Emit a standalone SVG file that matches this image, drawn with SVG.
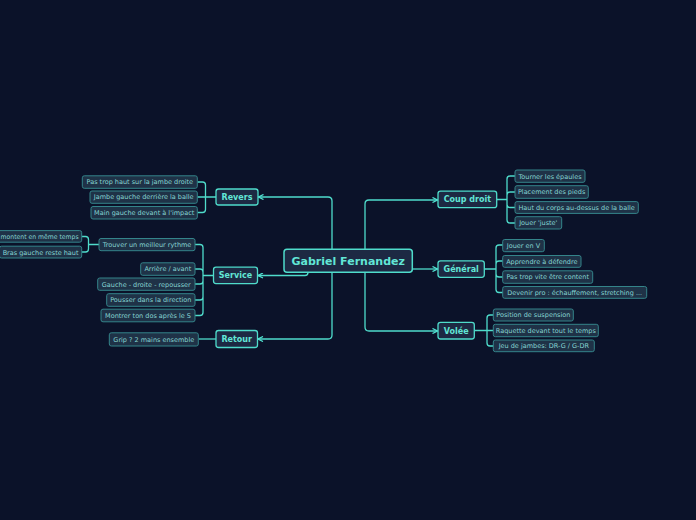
<svg xmlns="http://www.w3.org/2000/svg" width="696" height="520" viewBox="0 0 696 520">
<defs>
<marker id="arr" viewBox="0 0 6 6" refX="5.5" refY="3" markerWidth="6" markerHeight="6" markerUnits="userSpaceOnUse" orient="auto">
<path d="M0.5,0.5 L5.5,3 L0.5,5.5" fill="none" stroke="#52e3d2" stroke-width="1.3"/>
</marker>
<style>
.bg{fill:#0b1229}
.main rect{fill:#1d2943;stroke:#4fdccb;stroke-width:1.3}
.main text{font-family:"DejaVu Sans",sans-serif;font-weight:bold;font-size:8px;fill:#62e6d6;text-anchor:middle}
.root rect{fill:#1d2943;stroke:#4fdccb;stroke-width:1.5}
.root text{font-family:"DejaVu Sans",sans-serif;font-weight:bold;font-size:11px;fill:#62e6d6;text-anchor:middle}
.leaf rect{fill:#1f3247;stroke:#34848a;stroke-width:1}
.leaf text{font-family:"DejaVu Sans",sans-serif;font-size:6.5px;fill:#86d5d3;text-anchor:middle}
.c{fill:none;stroke:#4fdccb;stroke-width:1.3}
.a{marker-end:url(#arr)}
</style>
</defs>
<rect class="bg" x="0" y="0" width="696" height="520"/>

<g id="connectors">
<path class="c a" d="M332,249 V201 Q332,197 328,197 H258.5"/>
<path class="c a" d="M308,272 V272.5 Q308,275.5 305,275.5 H258"/>
<path class="c a" d="M332,272 V335 Q332,339 328,339 H258"/>
<path class="c a" d="M365,249 V204 Q365,200 369,200 H437.5"/>
<path class="c a" d="M412,269 H437.5"/>
<path class="c a" d="M365,272 V327 Q365,331 369,331 H437.5"/>
<path class="c" d="M497,199.5 H507 M507,199.5 V179 Q507,176 510,176 H515 M507,199.5 V195 Q507,192 510,192 H515 M507,199.5 V204.5 Q507,207.5 510,207.5 H515 M507,199.5 V220 Q507,223 510,223 H515"/>
<path class="c" d="M484.5,269 H496 M496,269 V248 Q496,245 499,245 H503 M496,269 V264 Q496,261 499,261 H503 M496,269 V274 Q496,277 499,277 H503 M496,269 V289.5 Q496,292.5 499,292.5 H503"/>
<path class="c" d="M474.5,330.5 H493.5 M487,330.5 V318 Q487,315 490,315 H493.5 M487,330.5 V343 Q487,346 490,346 H493.5"/>
<path class="c" d="M216,197 H197.5 M205.5,197 V185 Q205.5,182 202.5,182 H197.5 M205.5,197 V209.5 Q205.5,212.5 202.5,212.5 H197.5"/>
<path class="c" d="M213.5,275.5 H203 M203,275.5 V247.5 Q203,244.5 200,244.5 H195 M203,275.5 V272 Q203,269 200,269 H195 M203,275.5 V281 Q203,284 200,284 H195 M203,275.5 V297 Q203,300 200,300 H195 M203,275.5 V312.5 Q203,315.5 200,315.5 H195"/>
<path class="c" d="M99,244.5 H88.5 M88.5,244.5 V239.5 Q88.5,236.5 85.5,236.5 H82 M88.5,244.5 V249 Q88.5,252 85.5,252 H82"/>
<path class="c" d="M216,339 H198.5"/>
</g>

<g id="root" class="root"><rect x="284" y="249.3" width="128.3" height="23" rx="3"/><text x="348.2" y="264.8">Gabriel Fernandez</text></g>

<g id="revers" class="main"><rect x="216" y="189" width="42" height="16" rx="2.5"/><text x="237" y="199.8">Revers</text></g>
<g id="service" class="main"><rect x="213.5" y="267.2" width="44" height="16.4" rx="2.5"/><text x="235.5" y="278.3">Service</text></g>
<g id="retour" class="main"><rect x="216" y="330.5" width="41.5" height="17" rx="2.5"/><text x="236.7" y="341.8">Retour</text></g>
<g id="coup-droit" class="main"><rect x="438" y="191.2" width="58.7" height="16.5" rx="2.5"/><text x="467.3" y="202.4">Coup droit</text></g>
<g id="general" class="main"><rect x="438" y="260.8" width="46.3" height="16.5" rx="2.5"/><text x="461.2" y="272">Général</text></g>
<g id="volee" class="main"><rect x="438" y="322.3" width="36.3" height="16.7" rx="2.5"/><text x="456.2" y="333.6">Volée</text></g>

<g id="n-revers-1" class="leaf"><rect x="82.3" y="175.8" width="115" height="12.5" rx="2"/><text x="139.8" y="184.3">Pas trop haut sur la jambe droite</text></g>
<g id="n-revers-2" class="leaf"><rect x="90" y="191" width="107.3" height="12.3" rx="2"/><text x="143.7" y="199.4">Jambe gauche derrière la balle</text></g>
<g id="n-revers-3" class="leaf"><rect x="91" y="206.5" width="106.3" height="12.5" rx="2"/><text x="144.2" y="215">Main gauche devant à l'impact</text></g>

<g id="n-service-1" class="leaf"><rect x="99" y="238.5" width="96" height="12.2" rx="2"/><text x="147" y="246.9">Trouver un meilleur rythme</text></g>
<g id="n-service-2" class="leaf"><rect x="140.7" y="262.8" width="54.3" height="12.5" rx="2"/><text x="167.8" y="271.4">Arrière / avant</text></g>
<g id="n-service-3" class="leaf"><rect x="97.7" y="278" width="97.3" height="12.3" rx="2"/><text x="146.3" y="286.5">Gauche - droite - repousser</text></g>
<g id="n-service-4" class="leaf"><rect x="106.7" y="293.7" width="88.3" height="12.6" rx="2"/><text x="150.8" y="302.3">Pousser dans la direction</text></g>
<g id="n-service-5" class="leaf"><rect x="101" y="309.2" width="94" height="12.6" rx="2"/><text x="148" y="317.8">Montrer ton dos après le S</text></g>

<g id="n-rythme-1" class="leaf"><rect x="-6" y="230.6" width="87.7" height="11.6" rx="2"/><text x="0.6" y="238.8" style="text-anchor:start" textLength="78" lengthAdjust="spacingAndGlyphs">montent en même temps</text></g>
<g id="n-rythme-2" class="leaf"><rect x="-0.5" y="246.2" width="82.2" height="11.8" rx="2"/><text x="40.6" y="254.5">Bras gauche reste haut</text></g>

<g id="n-retour-1" class="leaf"><rect x="109.3" y="332.8" width="89" height="13.2" rx="2"/><text x="153.8" y="341.7">Grip ? 2 mains ensemble</text></g>

<g id="n-cd-1" class="leaf"><rect x="515" y="170" width="70" height="12.3" rx="2"/><text x="550" y="178.5">Tourner les épaules</text></g>
<g id="n-cd-2" class="leaf"><rect x="515" y="185.7" width="73.3" height="12.6" rx="2"/><text x="551.6" y="194.3">Placement des pieds</text></g>
<g id="n-cd-3" class="leaf"><rect x="515" y="201.6" width="123.3" height="11.8" rx="2"/><text x="576.6" y="209.9">Haut du corps au-dessus de la balle</text></g>
<g id="n-cd-4" class="leaf"><rect x="515" y="216.7" width="46.7" height="12.3" rx="2"/><text x="538.3" y="225.2">Jouer 'juste'</text></g>

<g id="n-gen-1" class="leaf"><rect x="502.7" y="239.5" width="41.6" height="12.2" rx="2"/><text x="523.5" y="247.9">Jouer en V</text></g>
<g id="n-gen-2" class="leaf"><rect x="502.7" y="255.5" width="78.3" height="11.8" rx="2"/><text x="541.8" y="263.7">Apprendre à défendre</text></g>
<g id="n-gen-3" class="leaf"><rect x="502.7" y="270.8" width="90" height="12.5" rx="2"/><text x="547.7" y="279.3">Pas trop vite être content</text></g>
<g id="n-gen-4" class="leaf"><rect x="502.7" y="286.5" width="144" height="11.8" rx="2"/><text x="574.7" y="294.7">Devenir pro : échauffement, stretching ...</text></g>

<g id="n-vol-1" class="leaf"><rect x="493.3" y="309" width="80" height="12" rx="2"/><text x="533.3" y="317.3">Position de suspension</text></g>
<g id="n-vol-2" class="leaf"><rect x="493.3" y="324.3" width="105" height="12.4" rx="2"/><text x="545.8" y="332.8">Raquette devant tout le temps</text></g>
<g id="n-vol-3" class="leaf"><rect x="493.3" y="340" width="101" height="11.7" rx="2"/><text x="543.8" y="348.2">Jeu de jambes: DR-G / G-DR</text></g>
</svg>
